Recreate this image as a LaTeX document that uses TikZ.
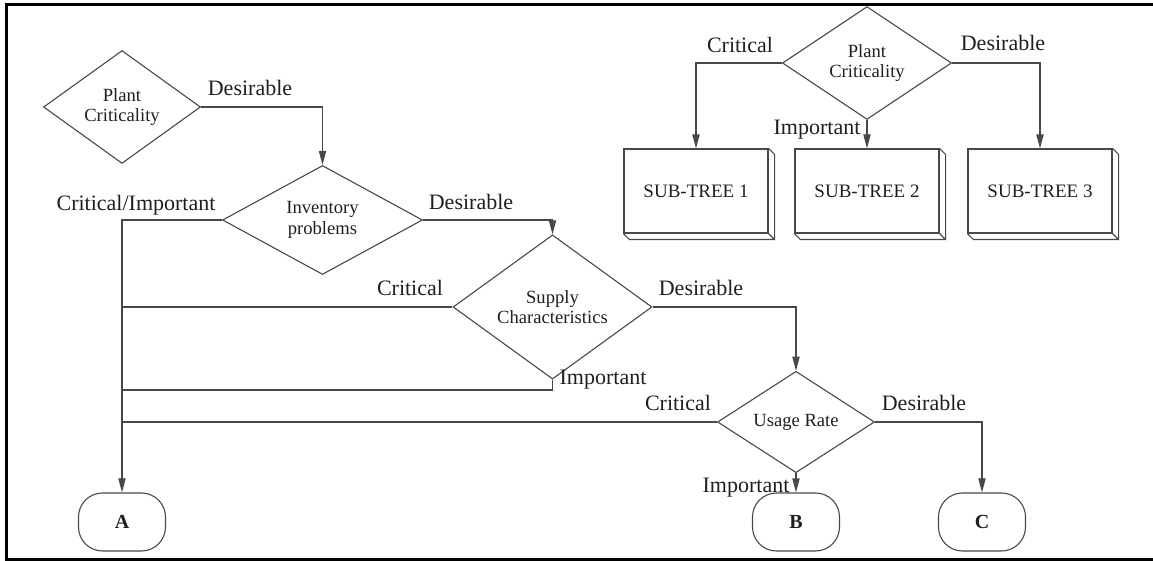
\documentclass[tikz,border=0pt]{standalone}
\usepackage{fontspec}
\setmainfont{Liberation Serif}
\usepackage{xcolor}
\usetikzlibrary{shapes.geometric,arrows.meta}
\definecolor{ink}{RGB}{72,72,72}

\begin{document}
\begin{tikzpicture}[x=0.5pt,y=-0.5pt,>={Triangle[length=7pt,width=3.6pt]},
  every node/.style={text=black!88},
  decision/.style={diamond,draw=ink,line width=0.55pt,inner sep=0pt,align=center,
    font=\fontsize{9.3}{10.3}\selectfont},
  subtree/.style={draw=ink,line width=0.55pt,minimum width=72pt,minimum height=42pt,
    font=\fontsize{9.5}{11}\selectfont},
  terminal/.style={draw=ink,line width=0.55pt,rounded corners=12pt,minimum width=43.5pt,
    minimum height=29pt,font=\fontsize{10}{12}\selectfont\bfseries},
  lbl/.style={inner sep=0pt,text height=7.5pt,text depth=0pt,font=\fontsize{11}{13}\selectfont},
  flow/.style={draw=ink,line width=0.55pt}]
  \useasboundingbox (0,0) rectangle (1153,561);
  \draw[line width=1.5pt] (1153,4.5) -- (6.5,4.5) -- (6.5,559.5) -- (1153,559.5);

  % main tree
  \node[decision,minimum width=78.5pt,minimum height=42.5pt] (pcL) at (122,107) {Plant\\Criticality};
  \node[decision,minimum width=100pt,minimum height=49pt] (inv) at (322.5,220) {Inventory\\problems};
  \node[decision,minimum width=99.5pt,minimum height=50pt] (sup) at (552.5,307) {Supply\\Characteristics};
  \node[decision,minimum width=78.5pt,minimum height=42pt] (use) at (796,422) {Usage Rate};
  \node[terminal] (A) at (122,522) {A};
  \node[terminal] (B) at (796,522) {B};
  \node[terminal] (C) at (982,522) {C};

  % sub-trees
  \node[decision,minimum width=84.5pt,minimum height=43pt] (pcT) at (867,63) {Plant\\Criticality};
  \node[subtree] (s1) at (696,191) {SUB-TREE 1};
  \node[subtree] (s2) at (867,191) {SUB-TREE 2};
  \node[subtree] (s3) at (1040,191) {SUB-TREE 3};
  \foreach \s in {s1,s2,s3}
    \draw[flow] (\s.north east) -- ++(3pt,-3pt) |- ([shift={(3pt,-3pt)}]\s.south west) -- (\s.south west)
                (\s.south east) -- ++(3pt,-3pt);

  \coordinate (supI) at (122,390);
  \path[flow,->] (pcL.east) -| (inv.north);
  \path[flow,->] (inv.west) -| (A.north);
  \path[flow,->] (inv.east) -| (sup.north);
  \path[flow] (sup.west) -- (sup.west -| A.north);
  \path[flow] (sup.south) |- (supI);
  \path[flow,->] (sup.east) -| (use.north);
  \path[flow] (use.west) -- (use.west -| A.north);
  \path[flow,->] (use.south) -- (B.north);
  \path[flow,->] (use.east) -| (C.north);
  \path[flow,->] (pcT.west) -| (s1.north);
  \path[flow,->] (pcT.south) -- (s2.north);
  \path[flow,->] (pcT.east) -| (s3.north);

  % branch labels
  \node[lbl] (dPC) at (250,88) {Desirable};
  \node[lbl] (ciInv) at (136,203) {Critical/Important};
  \node[lbl] (dInv) at (471,202) {Desirable};
  \node[lbl] (cSup) at (410,288) {Critical};
  \node[lbl] (dSup) at (701,288) {Desirable};
  \node[lbl] (iSup) at (603,377) {Important};
  \node[lbl] (cUse) at (678,403) {Critical};
  \node[lbl] (dUse) at (924,403) {Desirable};
  \node[lbl] (iUse) at (746,485) {Important};
  \node[lbl] (cTop) at (740,45) {Critical};
  \node[lbl] (dTop) at (1003,43) {Desirable};
  \node[lbl] (iTop) at (817,127) {Important};
\end{tikzpicture}
\end{document}
